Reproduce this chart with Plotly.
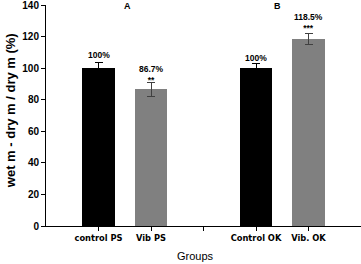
import plotly.graph_objects as go

categories = ["control PS", "Vib PS", "", "Control OK", "Vib. OK"]
positions = [1, 2, 3, 4, 5]
bar_x = [1, 2, 4, 5]
values = [100, 86.7, 100, 118.5]
errors = [3.8, 4.5, 3.2, 3.6]
pct_labels = ["100%", "86.7%", "100%", "118.5%"]
stars = ["", "**", "", "***"]
colors = ["#000000", "#808080", "#000000", "#808080"]
err_colors = ["#000000", "#404040", "#000000", "#404040"]
panel_labels = ["A", "B"]
panel_x = [1.55, 4.4]
y_ticks = [0, 20, 40, 60, 80, 100, 120, 140]
x_title = "Groups"
y_title = "wet m - dry m / dry m (%)"

fig = go.Figure()
for x, v, e, c, ec in zip(bar_x, values, errors, colors, err_colors):
    fig.add_trace(go.Bar(
        x=[x], y=[v], width=0.61, marker=dict(color=c, line=dict(width=0)),
        error_y=dict(type="data", array=[e], visible=True, color=ec, thickness=1, width=4),
        showlegend=False, hoverinfo="skip",
    ))

font = "Liberation Sans, Arial, sans-serif"
label_shift = [0, -5, -2, -2]
for x, v, e, p, s, sh in zip(bar_x, values, errors, pct_labels, stars, label_shift):
    txt = "<b>%s</b>" % p if not s else "<b>%s</b><br><b>%s</b>" % (p, s)
    fig.add_annotation(x=x, y=v + e, text=txt, showarrow=False,
                       yanchor="bottom", yshift=sh, font=dict(family=font, size=8.5, color="#000"))

for lab, px in zip(panel_labels, panel_x):
    fig.add_annotation(x=px, y=140, text="<b>%s</b>" % lab, showarrow=False,
                       yanchor="middle", yshift=-1, font=dict(family=font, size=9, color="#000"))

fig.add_annotation(xref="paper", yref="paper", x=0.4746, y=-0.138, text=x_title,
                   showarrow=False, xanchor="center", yanchor="middle",
                   font=dict(family=font, size=11, color="#000"))
fig.add_annotation(xref="paper", yref="paper", x=-0.114, y=0.52, text="<b>%s</b>" % y_title,
                   textangle=-90, showarrow=False, xanchor="center", yanchor="middle",
                   font=dict(family=font, size=13, color="#000"))

fig.update_layout(
    width=361, height=264,
    margin=dict(l=46, r=0, t=5, b=38, autoexpand=False),
    paper_bgcolor="white", plot_bgcolor="white",
    font=dict(family=font, color="#000"),
    bargap=0,
)
fig.update_xaxes(
    range=[0, 6], tickvals=positions, ticktext=["<b>%s</b>" % c for c in categories],
    tickfont=dict(family="DejaVu Sans, Verdana, sans-serif", size=8.3), ticks="outside",
    ticklen=4, tickcolor="#000",
    showline=True, linecolor="#000", linewidth=1, showgrid=False, zeroline=False,
    automargin=False, ticklabeloverflow="allow",
)
fig.update_yaxes(
    range=[0, 140], tickvals=y_ticks, ticktext=["<b>%d</b>" % t for t in y_ticks],
    tickfont=dict(size=10), ticks="outside", ticklen=4, tickcolor="#000",
    showline=True, linecolor="#000", linewidth=1, showgrid=False, zeroline=False,
    automargin=False, ticklabeloverflow="allow",
)

fig.write_html("out.html", config={"displayModeBar": False},
               post_script="document.body.style.margin='0';")
